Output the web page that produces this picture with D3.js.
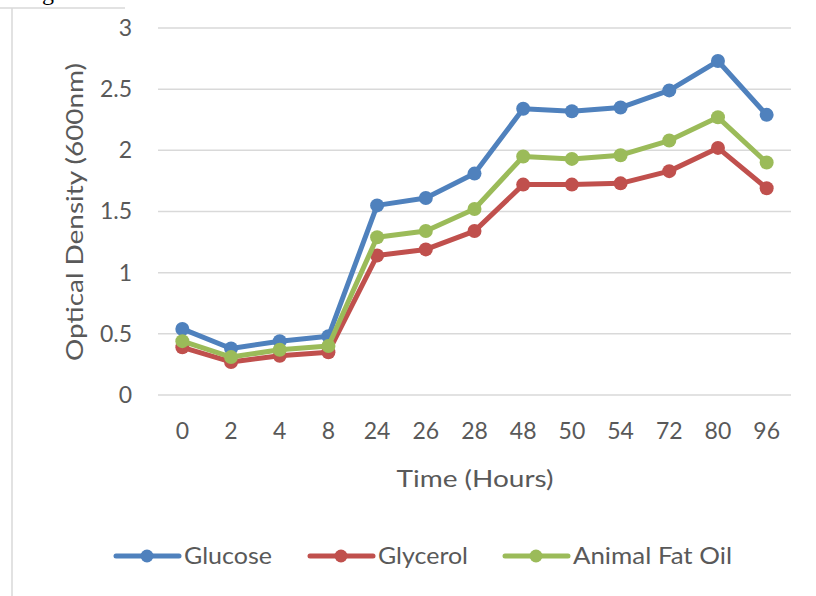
<!DOCTYPE html>
<html>
<head>
<meta charset="utf-8">
<script src="https://cdn.jsdelivr.net/npm/d3@7"></script>
<style>
  html, body { margin: 0; padding: 0; background: #fff; }
  svg { display: block; }
</style>
</head>
<body>
<svg id="chart" width="816" height="596"></svg>
<script>
const hours = ["0","2","4","8","24","26","28","48","50","54","72","80","96"];
const glucose  = [0.54,0.38,0.44,0.48,1.55,1.61,1.81,2.34,2.32,2.35,2.49,2.73,2.29];
const glycerol = [0.39,0.27,0.32,0.35,1.14,1.19,1.34,1.72,1.72,1.73,1.83,2.02,1.69];
const animalFat = [0.44,0.31,0.37,0.40,1.29,1.34,1.52,1.95,1.93,1.96,2.08,2.27,1.90];
const yTicks = [0,0.5,1,1.5,2,2.5,3];
const seriesNames = ["Glucose","Glycerol","Animal Fat Oil"];
const seriesColors = ["#4F81BD","#C0504D","#9BBB59"];
const seriesValues = [glucose, glycerol, animalFat];
const captionText = "Figure 3: Growth Kinetics of Isolate with the Different Carbon Sources in Production Media";

const svg = d3.select("#chart");
const font = "Lato, 'Open Sans', sans-serif";
const textGrey = "#595959";

// frame fragments
svg.append("line").attr("x1",12).attr("x2",12).attr("y1",8).attr("y2",596)
  .attr("stroke","#d9d9d9").attr("stroke-width",1.5);
svg.append("line").attr("x1",0).attr("x2",125).attr("y1",8).attr("y2",8)
  .attr("stroke","#d9d9d9").attr("stroke-width",1.5);

// caption, mostly above the top edge as in the reference
svg.append("text").attr("x",22).attr("y",-0.5)
  .attr("font-family","'Liberation Serif', serif").attr("font-size",24)
  .attr("fill","#000").text(captionText);

const x = d3.scaleBand().domain(hours).range([158, 791]);
const y = d3.scaleLinear().domain([0,3]).range([395, 28]);

// gridlines
svg.append("g").selectAll("line").data(yTicks).join("line")
  .attr("x1",158).attr("x2",791)
  .attr("y1",d=>y(d)).attr("y2",d=>y(d))
  .attr("stroke","#d9d9d9").attr("stroke-width",1.5);

// y axis labels
const yAxis = d3.axisLeft(y).tickValues(yTicks).tickSize(0).tickPadding(0)
  .tickFormat(d=>String(d));
const gy = svg.append("g").attr("transform","translate(132,0)").call(yAxis);
gy.select(".domain").remove();
gy.selectAll("text").attr("font-family",font).attr("font-size",23).attr("fill",textGrey);

// x axis labels
const xAxis = d3.axisBottom(x).tickSize(0).tickPadding(0);
const gx = svg.append("g").attr("transform","translate(0,423)").call(xAxis);
gx.select(".domain").remove();
gx.selectAll("text").attr("font-family",font).attr("font-size",23).attr("fill",textGrey);

// axis titles
svg.append("text").attr("x",475).attr("y",487).attr("text-anchor","middle")
  .attr("font-family",font).attr("font-size",23).attr("fill",textGrey)
  .attr("textLength",157).attr("lengthAdjust","spacingAndGlyphs").text("Time (Hours)");
svg.append("text").attr("transform","translate(83,212) rotate(-90)").attr("text-anchor","middle")
  .attr("font-family",font).attr("font-size",23).attr("fill",textGrey)
  .attr("textLength",298).attr("lengthAdjust","spacingAndGlyphs").text("Optical Density (600nm)");

// series
const line = d3.line().x((d,i)=>x(hours[i]) + x.bandwidth()/2).y(d=>y(d));
seriesValues.forEach((vals, s) => {
  const g = svg.append("g");
  g.append("path").datum(vals).attr("d", line)
    .attr("fill","none").attr("stroke",seriesColors[s]).attr("stroke-width",5)
    .attr("stroke-linejoin","round").attr("stroke-linecap","round");
  g.selectAll("circle").data(vals).join("circle")
    .attr("cx",(d,i)=>x(hours[i]) + x.bandwidth()/2)
    .attr("cy",d=>y(d)).attr("r",7).attr("fill",seriesColors[s]);
});

// legend
const legendX = [116, 310, 505];
const legendW = [88, 90, 159];
const legend = svg.append("g");
seriesNames.forEach((name, s) => {
  const lx = legendX[s];
  legend.append("line").attr("x1",lx).attr("x2",lx+63).attr("y1",556).attr("y2",556)
    .attr("stroke",seriesColors[s]).attr("stroke-width",5).attr("stroke-linecap","round");
  legend.append("circle").attr("cx",lx+31).attr("cy",556).attr("r",6.5).attr("fill",seriesColors[s]);
  legend.append("text").attr("x",lx+68).attr("y",556).attr("dy","0.35em")
    .attr("font-family",font).attr("font-size",23).attr("fill",textGrey)
    .attr("textLength",legendW[s]).attr("lengthAdjust","spacingAndGlyphs").text(name);
});
</script>
</body>
</html>
